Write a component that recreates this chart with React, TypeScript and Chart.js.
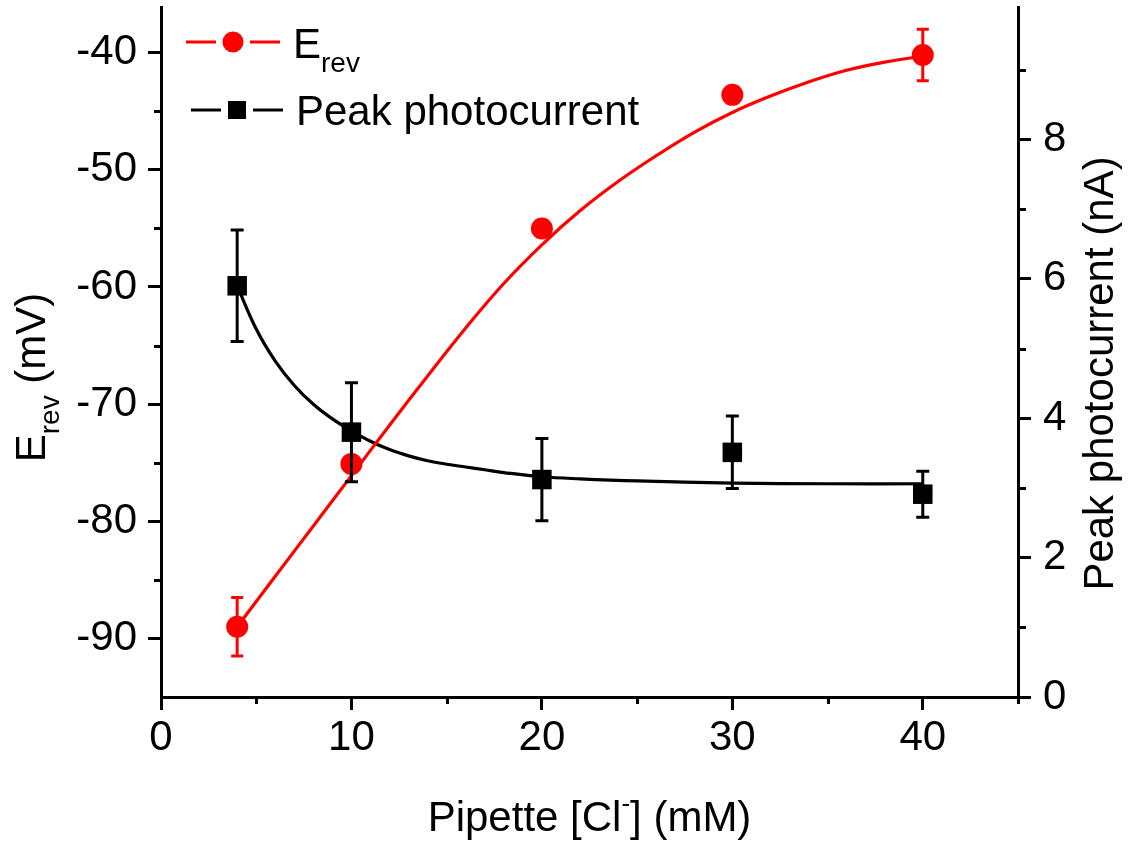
import React, { useEffect, useRef } from "react";
import { Chart, registerables } from "chart.js";

Chart.register(...registerables);

// ---- data ----
const concentrations = [4, 10, 20, 30, 40];
const erevMeans = [-89.0, -75.1, -55.0, -43.6, -40.2];
const erevErrors = [2.5, 0.5, 0.5, 0.5, 2.2];
const currentMeans = [5.9, 3.8, 3.12, 3.51, 2.91];
const currentErrors = [0.8, 0.71, 0.59, 0.52, 0.33];

// fitted curves, points
const erevFitX = [4, 6, 8, 10, 12, 14, 16, 18, 20, 22, 24, 26, 28, 30, 32, 34, 36, 38, 40];
const erevFitY = [-89.0, -84.7, -80.4, -76.1, -71.8, -67.6, -63.5, -59.7, -56.4, -53.5, -51.0, -48.8, -46.8, -45.1, -43.7, -42.5, -41.5, -40.8, -40.3];
const currentFitX = [4, 5, 6, 7, 8, 9, 10, 11, 12, 13, 14, 15, 16, 17, 18, 20, 22, 25, 30, 35, 40];
const currentFitY = [5.9, 5.28, 4.82, 4.47, 4.2, 3.99, 3.82, 3.67, 3.55, 3.46, 3.39, 3.34, 3.3, 3.26, 3.22, 3.16, 3.13, 3.1, 3.07, 3.06, 3.06];

// ticks
const xMajorTicks = [0, 10, 20, 30, 40];
const xMinorTicks = [5, 15, 25, 35, 45];
const erevMajorTicks = [-90, -80, -70, -60, -50, -40];
const erevMinorTicks = [-85, -75, -65, -55, -45];
const currentMajorTicks = [0, 2, 4, 6, 8];
const currentMinorTicks = [1, 3, 5, 7, 9];

// texts
const xTitleParts = ["Pipette [Cl", "-", "] (mM)"];
const yTitleParts = ["E", "rev", " (mV)"];
const y1Title = "Peak photocurrent (nA)";
const legendErevParts = ["E", "rev"];
const legendCurrent = "Peak photocurrent";

const RED = "#ff0000";
const BLACK = "#000000";
const FAMILY = '"Liberation Sans", Arial, sans-serif';
const font = (s: number) => `${s}px ${FAMILY}`;

type Part = { t: string; s: number; dy: number };

function drawParts(ctx: CanvasRenderingContext2D, parts: Part[], x: number, y: number, center: boolean) {
  let total = 0;
  for (const p of parts) {
    ctx.font = font(p.s);
    total += ctx.measureText(p.t).width;
  }
  let cx = center ? x - total / 2 : x;
  ctx.textBaseline = "alphabetic";
  ctx.textAlign = "left";
  for (const p of parts) {
    ctx.font = font(p.s);
    ctx.fillText(p.t, cx, y + p.dy);
    cx += ctx.measureText(p.t).width;
  }
}

const decorPlugin = {
  id: "decor",
  afterDatasetsDraw(chart: any) {
    const ctx: CanvasRenderingContext2D = chart.ctx;
    const xs = chart.scales.x;
    const ys = chart.scales.y;
    const y1s = chart.scales.y1;
    ctx.save();
    ctx.lineWidth = 3;
    ctx.lineCap = "butt";
    const bar = (px: number, top: number, bot: number, color: string, cap: number) => {
      ctx.strokeStyle = color;
      ctx.beginPath();
      ctx.moveTo(px, top);
      ctx.lineTo(px, bot);
      ctx.moveTo(px - cap, top);
      ctx.lineTo(px + cap, top);
      ctx.moveTo(px - cap, bot);
      ctx.lineTo(px + cap, bot);
      ctx.stroke();
    };
    concentrations.forEach((c, i) => {
      const px = xs.getPixelForValue(c);
      bar(px, ys.getPixelForValue(erevMeans[i] + erevErrors[i]), ys.getPixelForValue(erevMeans[i] - erevErrors[i]), RED, 6);
    });
    concentrations.forEach((c, i) => {
      const px = xs.getPixelForValue(c);
      bar(px, y1s.getPixelForValue(currentMeans[i] + currentErrors[i]), y1s.getPixelForValue(currentMeans[i] - currentErrors[i]), BLACK, 6.5);
    });
    ctx.restore();
  },
  afterDraw(chart: any) {
    const ctx: CanvasRenderingContext2D = chart.ctx;
    const xs = chart.scales.x;
    const ys = chart.scales.y;
    const y1s = chart.scales.y1;
    const area = chart.chartArea;
    ctx.save();
    // minor ticks
    ctx.strokeStyle = BLACK;
    ctx.lineWidth = 3;
    ctx.beginPath();
    xMinorTicks.forEach((v) => {
      const px = Math.round(xs.getPixelForValue(v)) + 0.5;
      ctx.moveTo(px, area.bottom);
      ctx.lineTo(px, area.bottom + 7);
    });
    erevMinorTicks.forEach((v) => {
      const py = Math.round(ys.getPixelForValue(v)) + 0.5;
      ctx.moveTo(area.left, py);
      ctx.lineTo(area.left - 7, py);
    });
    currentMinorTicks.forEach((v) => {
      const py = Math.round(y1s.getPixelForValue(v)) + 0.5;
      ctx.moveTo(area.right, py);
      ctx.lineTo(area.right + 8, py);
    });
    ctx.stroke();

    ctx.fillStyle = BLACK;
    // x title
    drawParts(
      ctx,
      [
        { t: xTitleParts[0], s: 42, dy: 0 },
        { t: xTitleParts[1], s: 26, dy: -19 },
        { t: xTitleParts[2], s: 42, dy: 0 },
      ],
      (area.left + area.right) / 2,
      831,
      true
    );
    // left title
    ctx.save();
    ctx.translate(45, 377.5);
    ctx.rotate(-Math.PI / 2);
    drawParts(
      ctx,
      [
        { t: yTitleParts[0], s: 42, dy: 0 },
        { t: yTitleParts[1], s: 28, dy: 14 },
        { t: yTitleParts[2], s: 42, dy: 0 },
      ],
      0,
      0,
      true
    );
    ctx.restore();
    // right title
    ctx.save();
    ctx.translate(1113, 373.5);
    ctx.rotate(-Math.PI / 2);
    drawParts(ctx, [{ t: y1Title, s: 42, dy: 0 }], 0, 0, true);
    ctx.restore();

    // legend
    ctx.lineWidth = 3;
    ctx.strokeStyle = RED;
    ctx.beginPath();
    ctx.moveTo(186, 42);
    ctx.lineTo(216, 42);
    ctx.moveTo(250, 42);
    ctx.lineTo(280, 42);
    ctx.stroke();
    ctx.fillStyle = RED;
    ctx.beginPath();
    ctx.arc(233, 42, 10.5, 0, Math.PI * 2);
    ctx.fill();
    ctx.fillStyle = BLACK;
    drawParts(
      ctx,
      [
        { t: legendErevParts[0], s: 42, dy: 0 },
        { t: legendErevParts[1], s: 28, dy: 14 },
      ],
      293,
      58,
      false
    );
    ctx.strokeStyle = BLACK;
    ctx.beginPath();
    ctx.moveTo(191, 110);
    ctx.lineTo(221, 110);
    ctx.moveTo(253, 110);
    ctx.lineTo(283, 110);
    ctx.stroke();
    ctx.fillRect(237 - 9, 110 - 9, 18, 18);
    drawParts(ctx, [{ t: legendCurrent, s: 42, dy: 0 }], 296, 125, false);
    ctx.restore();
  },
};

function fixScale(prop: "width" | "height", size: number) {
  return (scale: any) => {
    scale[prop] = size;
    scale.paddingTop = 0;
    scale.paddingBottom = 0;
    scale.paddingLeft = 0;
    scale.paddingRight = 0;
  };
}

const axisCommon = (ticksArr: number[], pad: number) => ({
  afterBuildTicks: (scale: any) => {
    scale.ticks = ticksArr.map((v) => ({ value: v }));
  },
  grid: {
    display: true,
    drawOnChartArea: false,
    drawTicks: true,
    tickLength: 13,
    tickWidth: 3,
    tickColor: BLACK,
    lineWidth: 3,
    color: BLACK,
  },
  border: { display: true, width: 3, color: BLACK },
  ticks: {
    color: BLACK,
    font: { family: FAMILY, size: 42 },
    padding: pad,
    autoSkip: false,
    maxRotation: 0,
    minRotation: 0,
  },
  title: { display: false },
});

export default function App() {
  const ref = useRef<HTMLCanvasElement | null>(null);
  useEffect(() => {
    if (!ref.current) return;
    const chart = new Chart(ref.current, {
      type: "line",
      data: {
        datasets: [
          {
            label: "Peak photocurrent points",
            data: concentrations.map((x, i) => ({ x, y: currentMeans[i] })),
            yAxisID: "y1",
            showLine: false,
            pointStyle: "rect",
            pointRadius: 13.8,
            pointBackgroundColor: BLACK,
            pointBorderWidth: 0,
            borderColor: BLACK,
            backgroundColor: BLACK,
            order: 1,
          },
          {
            label: "Erev points",
            data: concentrations.map((x, i) => ({ x, y: erevMeans[i] })),
            yAxisID: "y",
            showLine: false,
            pointStyle: "circle",
            pointRadius: 11,
            pointBackgroundColor: RED,
            pointBorderWidth: 0,
            borderColor: RED,
            backgroundColor: RED,
            order: 2,
          },
          {
            label: "Erev fit",
            data: erevFitX.map((x, i) => ({ x, y: erevFitY[i] })),
            yAxisID: "y",
            borderColor: RED,
            borderWidth: 3.2,
            pointRadius: 0,
            tension: 0.4,
            fill: false,
            order: 3,
          },
          {
            label: "Current fit",
            data: currentFitX.map((x, i) => ({ x, y: currentFitY[i] })),
            yAxisID: "y1",
            borderColor: BLACK,
            borderWidth: 3.2,
            pointRadius: 0,
            tension: 0.4,
            fill: false,
            order: 4,
          },
        ],
      },
      options: {
        responsive: false,
        animation: false,
        devicePixelRatio: 1,
        layout: { autoPadding: false, padding: { top: 7, left: 0, right: 0, bottom: 0 } },
        plugins: { legend: { display: false }, tooltip: { enabled: false } },
        scales: {
          x: {
            type: "linear",
            position: "bottom",
            min: 0,
            max: 45,
            afterFit: fixScale("height", 144),
            ...axisCommon(xMajorTicks, 3),
          },
          y: {
            type: "linear",
            position: "left",
            min: -95,
            max: -36.1,
            afterFit: fixScale("width", 161),
            ...axisCommon(erevMajorTicks, 11),
          },
          y1: {
            type: "linear",
            position: "right",
            min: 0,
            max: 9.9,
            afterFit: fixScale("width", 112),
            ...axisCommon(currentMajorTicks, 12),
          },
        },
      },
      plugins: [decorPlugin],
    } as any);
    return () => chart.destroy();
  }, []);
  return (
    <div style={{ position: "fixed", left: 0, top: 0, width: 1130, height: 841, background: "#fff" }}>
      <canvas ref={ref} width={1130} height={841} style={{ display: "block" }} />
    </div>
  );
}
